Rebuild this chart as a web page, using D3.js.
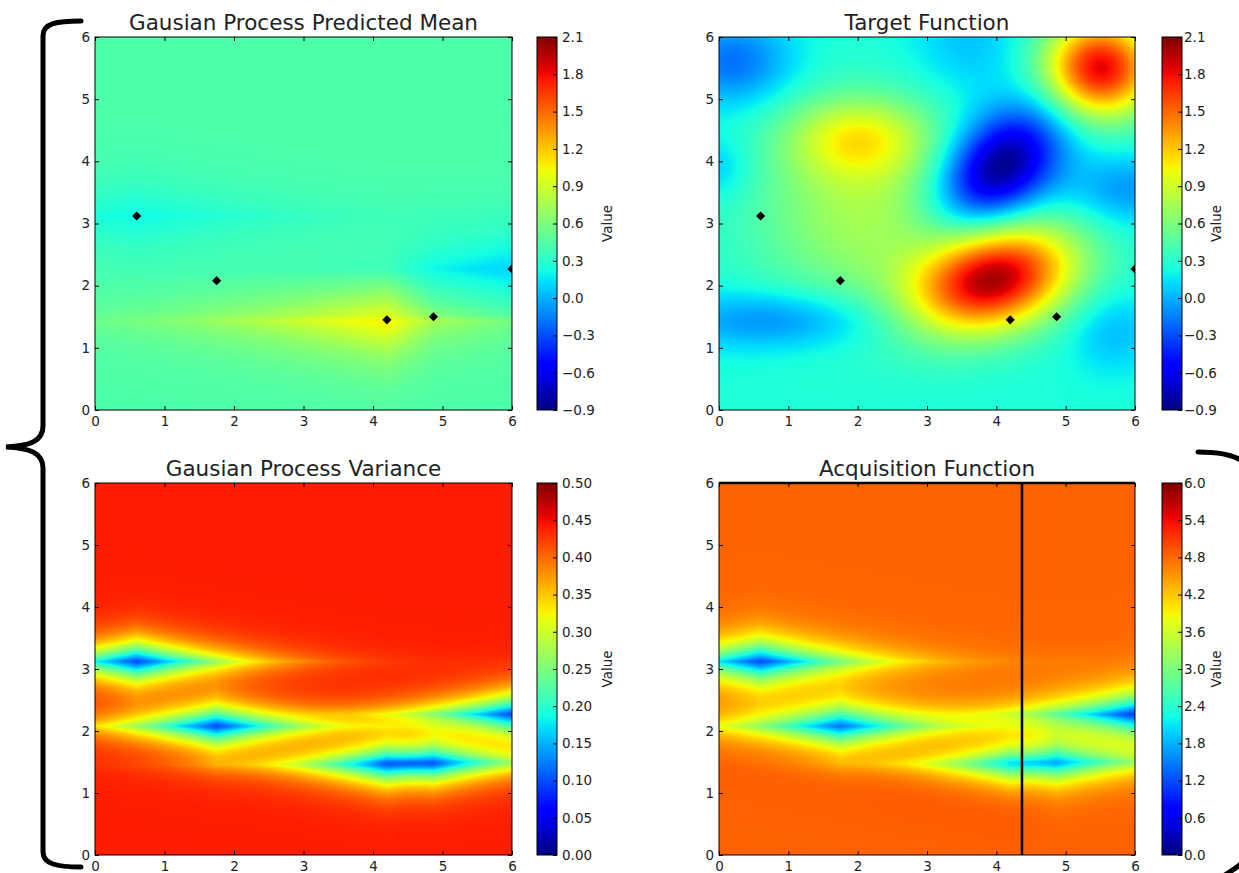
<!DOCTYPE html>
<html>
<head>
<meta charset="utf-8">
<script src="https://cdn.jsdelivr.net/npm/d3@7"></script>
<style>
  body { margin: 0; background: #fff; }
  svg text { font-family: "DejaVu Sans", sans-serif; fill: #222; }
</style>
</head>
<body>
<svg id="fig" width="1239" height="873"></svg>
<script>
// ---------------- data ----------------
// sampled locations, the observed objective values there and their noise levels
const obsX = [0.6, 1.75, 4.2, 4.87, 6.0];
const obsY = [3.12, 2.08, 1.45, 1.5, 2.27];
const obsValue = [0.15, 0.45, 1.55, 0.4, 0.0];
const obsNoise = [0.13, 0.13, 0.2, 0.2, 0.13];

// target surface: a base level plus Gaussian bumps (centre, height, spread, tilt in degrees)
const targetBase = 0.25;
const bumpX    = [3.97, 4.05, 5.5, 2.0, 2.1, 0.8, 0.2, 5.9, 5.7, 3.6, 0.0];
const bumpY    = [2.1, 3.9, 5.5, 4.38, 3.2, 1.45, 5.6, 3.55, 1.25, 5.9, 3.9];
const bumpAmp  = [1.7, -1.2, 1.6, 0.6, 0.5, -0.38, -0.45, -0.33, -0.22, -0.2, -0.2];
const bumpSx   = [0.82, 0.75, 0.55, 0.7, 1.1, 1.1, 0.6, 0.6, 0.45, 0.6, 0.35];
const bumpSy   = [0.55, 0.5, 0.55, 0.45, 1.1, 0.33, 0.5, 0.4, 0.45, 0.6, 0.35];
const bumpTilt = [20, 50, 0, 0, 0, 0, 0, 0, 0, 0, 0];

// Gaussian-process settings (powered exponential kernel on the scaled L1 distance)
const priorMean = 0.43;
const signalVar = 0.44;
const lenX = 2.6;
const lenY = 0.575;
const kernPower = 1.33;
const kappa = 10.0;          // exploration weight of the acquisition
const nextPoint = [4.37, 6]; // proposed next sample

const titles = ["Gausian Process Predicted Mean", "Target Function",
                "Gausian Process Variance", "Acquisition Function"];
const axisTicks = [0, 1, 2, 3, 4, 5, 6];
const valueTicks = [-0.9, -0.6, -0.3, 0.0, 0.3, 0.6, 0.9, 1.2, 1.5, 1.8, 2.1];
const varianceTicks = [0, 0.05, 0.10, 0.15, 0.20, 0.25, 0.30, 0.35, 0.40, 0.45, 0.50];
const acquisitionTicks = [0, 0.6, 1.2, 1.8, 2.4, 3.0, 3.6, 4.2, 4.8, 5.4, 6.0];
const colorbarLabel = "Value";

// ---------------- colour map (jet) ----------------
const jetR = d3.scaleLinear().domain([0, 0.35, 0.66, 0.89, 1]).range([0, 0, 1, 1, 0.5]).clamp(true);
const jetG = d3.scaleLinear().domain([0, 0.125, 0.375, 0.64, 0.91, 1]).range([0, 0, 1, 1, 0, 0]).clamp(true);
const jetB = d3.scaleLinear().domain([0, 0.11, 0.34, 0.65, 1]).range([0.5, 1, 1, 0, 0]).clamp(true);
const jetRGB = t => [Math.round(jetR(t) * 255), Math.round(jetG(t) * 255), Math.round(jetB(t) * 255)];

// ---------------- models ----------------
function target(x, y) {
  let v = targetBase;
  for (let i = 0; i < bumpX.length; i++) {
    const a = bumpTilt[i] * Math.PI / 180;
    const dx = x - bumpX[i], dy = y - bumpY[i];
    const u = dx * Math.cos(a) + dy * Math.sin(a);
    const w = -dx * Math.sin(a) + dy * Math.cos(a);
    v += bumpAmp[i] * Math.exp(-(u * u) / (2 * bumpSx[i] * bumpSx[i]) - (w * w) / (2 * bumpSy[i] * bumpSy[i]));
  }
  return v;
}

const kern = (x1, y1, x2, y2) =>
  signalVar * Math.exp(-Math.pow(Math.abs(x1 - x2) / lenX + Math.abs(y1 - y2) / lenY, kernPower));

function invert(M) {
  const n = M.length;
  const A = M.map((row, i) => row.concat(d3.range(n).map(j => (i === j ? 1 : 0))));
  for (let c = 0; c < n; c++) {
    let p = c;
    for (let r = c + 1; r < n; r++) if (Math.abs(A[r][c]) > Math.abs(A[p][c])) p = r;
    [A[c], A[p]] = [A[p], A[c]];
    const d = A[c][c];
    for (let j = 0; j < 2 * n; j++) A[c][j] /= d;
    for (let r = 0; r < n; r++) {
      if (r === c) continue;
      const f = A[r][c];
      for (let j = 0; j < 2 * n; j++) A[r][j] -= f * A[c][j];
    }
  }
  return A.map(row => row.slice(n));
}

const nObs = obsX.length;
const K = obsX.map((xi, i) => obsX.map((xj, j) => kern(xi, obsY[i], xj, obsY[j]) + (i === j ? obsNoise[i] : 0)));
const Kinv = invert(K);
const resid = obsValue.map(v => v - priorMean);
const alpha = Kinv.map(row => d3.sum(row, (v, j) => v * resid[j]));

function gp(x, y) {
  const k = obsX.map((xi, i) => kern(x, y, xi, obsY[i]));
  let mean = priorMean, q = 0;
  for (let i = 0; i < nObs; i++) {
    mean += k[i] * alpha[i];
    for (let j = 0; j < nObs; j++) q += k[i] * Kinv[i][j] * k[j];
  }
  return { mean, variance: Math.max(0, signalVar - q) };
}

const fields = {
  mean: (x, y) => gp(x, y).mean,
  target: (x, y) => target(x, y),
  variance: (x, y) => gp(x, y).variance,
  acquisition: (x, y) => { const g = gp(x, y); return g.mean + kappa * g.variance; }
};

// ---------------- layout ----------------
const cols = [
  { x: 95, w: 417, cbX: 537, cbPad: 5, labelX: 607 },
  { x: 719, w: 416, cbX: 1162, cbPad: 2, labelX: 1216 }
];
const rows = [{ y: 37, h: 373 }, { y: 483, h: 372 }];
const cbW = 20;

const panels = [
  { title: titles[0], field: "mean", col: 0, row: 0, domain: [-0.9, 2.1], ticks: valueTicks, fmt: d3.format(".1f"), markers: true },
  { title: titles[1], field: "target", col: 1, row: 0, domain: [-0.9, 2.1], ticks: valueTicks, fmt: d3.format(".1f"), markers: true },
  { title: titles[2], field: "variance", col: 0, row: 1, domain: [0, 0.5], ticks: varianceTicks, fmt: d3.format(".2f"), markers: false },
  { title: titles[3], field: "acquisition", col: 1, row: 1, domain: [0, 6], ticks: acquisitionTicks, fmt: d3.format(".1f"), markers: false, cross: true }
];

const svg = d3.select("#fig");
const defs = svg.append("defs");

// jet gradient for the colour bars (bottom = low)
const grad = defs.append("linearGradient").attr("id", "jet")
  .attr("x1", 0).attr("y1", 1).attr("x2", 0).attr("y2", 0);
d3.range(0, 1.0001, 1 / 64).forEach(t => {
  const [r, g, b] = jetRGB(t);
  grad.append("stop").attr("offset", t).attr("stop-color", `rgb(${r},${g},${b})`);
});

panels.forEach((p, idx) => {
  const c = cols[p.col], r = rows[p.row];
  const x = d3.scaleLinear().domain([0, 6]).range([c.x, c.x + c.w]);
  const y = d3.scaleLinear().domain([0, 6]).range([r.y + r.h, r.y]);
  const norm = d3.scaleLinear().domain(p.domain).range([0, 1]).clamp(true);

  // heat map rendered pixel by pixel into a canvas, then placed as an image
  const canvas = document.createElement("canvas");
  canvas.width = c.w; canvas.height = r.h;
  const ctx = canvas.getContext("2d");
  const img = ctx.createImageData(c.w, r.h);
  const f = fields[p.field];
  for (let j = 0; j < r.h; j++) {
    const dy = y.invert(r.y + j + 0.5);
    for (let i = 0; i < c.w; i++) {
      const dx = x.invert(c.x + i + 0.5);
      const [cr, cg, cb] = jetRGB(norm(f(dx, dy)));
      const o = 4 * (j * c.w + i);
      img.data[o] = cr; img.data[o + 1] = cg; img.data[o + 2] = cb; img.data[o + 3] = 255;
    }
  }
  ctx.putImageData(img, 0, 0);

  const g = svg.append("g");
  g.append("image").attr("x", c.x).attr("y", r.y).attr("width", c.w).attr("height", r.h)
    .attr("preserveAspectRatio", "none").attr("href", canvas.toDataURL());

  const clipId = "clip" + idx;
  defs.append("clipPath").attr("id", clipId)
    .append("rect").attr("x", c.x).attr("y", r.y).attr("width", c.w).attr("height", r.h);

  if (p.markers) {
    g.append("g").attr("clip-path", `url(#${clipId})`)
      .selectAll("path").data(d3.range(nObs)).join("path")
      .attr("d", d3.symbol(d3.symbolSquare, 42)())
      .attr("transform", i => `translate(${x(obsX[i])},${y(obsY[i])}) rotate(45)`)
      .attr("fill", "#000");
  }

  if (p.cross) {
    g.append("line").attr("x1", x(nextPoint[0])).attr("x2", x(nextPoint[0]))
      .attr("y1", y(0)).attr("y2", y(6)).attr("stroke", "#000").attr("stroke-width", 2.5);
    g.append("line").attr("x1", x(0)).attr("x2", x(6))
      .attr("y1", y(nextPoint[1])).attr("y2", y(nextPoint[1])).attr("stroke", "#000").attr("stroke-width", 2.5);
  }

  // axes with inward ticks on all four sides
  const styleAxis = sel => {
    sel.select(".domain").remove();
    sel.selectAll(".tick line").attr("stroke", "#000");
    sel.selectAll(".tick text").style("font-size", "13.5px").attr("fill", "#222");
  };
  g.append("g").attr("transform", `translate(0,${r.y + r.h})`)
    .call(d3.axisBottom(x).tickValues(axisTicks).tickSize(-4).tickPadding(6).tickFormat(d3.format("d")))
    .call(styleAxis);
  g.append("g").attr("transform", `translate(${c.x},0)`)
    .call(d3.axisLeft(y).tickValues(axisTicks).tickSize(-4).tickPadding(5).tickFormat(d3.format("d")))
    .call(styleAxis);
  g.append("g").attr("transform", `translate(0,${r.y})`)
    .call(d3.axisTop(x).tickValues(axisTicks).tickSize(-4).tickFormat(""))
    .call(styleAxis);
  g.append("g").attr("transform", `translate(${c.x + c.w},0)`)
    .call(d3.axisRight(y).tickValues(axisTicks).tickSize(-4).tickFormat(""))
    .call(styleAxis);
  g.append("rect").attr("x", c.x).attr("y", r.y).attr("width", c.w).attr("height", r.h)
    .attr("fill", "none").attr("stroke", "#000").attr("stroke-width", 1);

  g.append("text").attr("x", c.x + c.w / 2).attr("y", r.y - 7.5)
    .attr("text-anchor", "middle").style("font-size", "21.5px").text(p.title);

  // colour bar
  const cbScale = d3.scaleLinear().domain(p.domain).range([r.y + r.h, r.y]);
  g.append("rect").attr("x", c.cbX).attr("y", r.y).attr("width", cbW).attr("height", r.h)
    .attr("fill", "url(#jet)").attr("stroke", "#000").attr("stroke-width", 1);
  g.append("g").attr("transform", `translate(${c.cbX + cbW},0)`)
    .call(d3.axisRight(cbScale).tickValues(p.ticks).tickSize(-4).tickPadding(c.cbPad).tickFormat(p.fmt))
    .call(styleAxis);
  g.append("text")
    .attr("transform", `translate(${c.labelX},${r.y + r.h / 2}) rotate(-90)`)
    .attr("text-anchor", "middle").attr("dy", "0.35em").style("font-size", "13.5px").text(colorbarLabel);
});

// grouping braces drawn around the figure
svg.append("path")
  .attr("d", "M81,21 C57,21 43,23 43,36 L43,426 C43,441 30,446 6,447 C30,448 43,453 43,468 L43,852 C43,864 57,867 81,867")
  .attr("fill", "none").attr("stroke", "#000").attr("stroke-width", 5).attr("stroke-linecap", "round");
svg.append("path")
  .attr("d", "M1198,452 C1228,452 1248,458 1251,474 L1251,845 C1249,862 1236,868 1220,878")
  .attr("fill", "none").attr("stroke", "#000").attr("stroke-width", 5).attr("stroke-linecap", "round");
</script>
</body>
</html>
